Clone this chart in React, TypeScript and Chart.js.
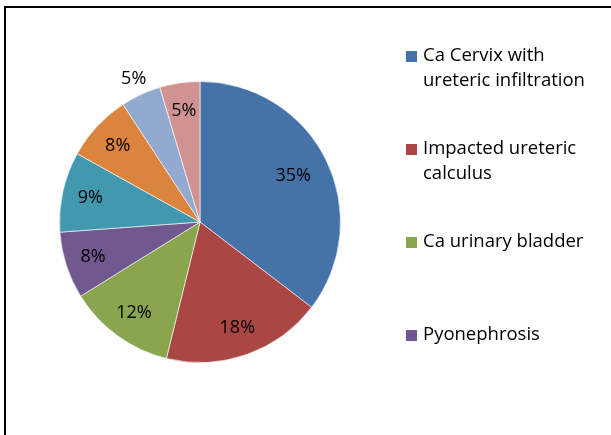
import React, { useEffect, useRef } from "react";
import { Chart, registerables } from "chart.js";

Chart.register(...registerables);

const categories = [
  "Ca Cervix with ureteric infiltration",
  "Impacted ureteric calculus",
  "Ca urinary bladder",
  "Pyonephrosis",
  "",
  "",
  "",
  "",
];
const legendLines = [
  ["Ca Cervix with", "ureteric infiltration"],
  ["Impacted ureteric", "calculus"],
  ["Ca urinary bladder"],
  ["Pyonephrosis"],
];
// patient counts (n = 65)
const values = [23, 12, 8, 5, 6, 5, 3, 3];
const colors = [
  "#4572A7",
  "#AA4643",
  "#89A54E",
  "#71588F",
  "#4198AF",
  "#DB843D",
  "#93A9CF",
  "#D19392",
];

const FONT = "'Open Sans', sans-serif";

export default function App() {
  const ref = useRef<HTMLCanvasElement>(null);
  useEffect(() => {
    document.body.style.margin = "0";
    const total = values.reduce((a, b) => a + b, 0);
    const labelPlugin = {
      id: "pieLabels",
      afterDatasetsDraw(chart: any) {
        const ctx = chart.ctx;
        const meta = chart.getDatasetMeta(0);
        ctx.save();
        ctx.font = `18px ${FONT}`;
        ctx.fillStyle = "#000";
        ctx.textAlign = "center";
        ctx.textBaseline = "middle";
        meta.data.forEach((arc: any, i: number) => {
          const p = arc.getProps(["x", "y", "startAngle", "endAngle", "outerRadius"], true);
          const mid = (p.startAngle + p.endAngle) / 2;
          const f = i === 6 ? 1.12 : i === 0 ? 0.74 : 0.8;
          const r = p.outerRadius * f;
          const txt = Math.round((values[i] / total) * 100) + "%";
          ctx.fillText(txt, p.x + Math.cos(mid) * r, p.y + Math.sin(mid) * r);
        });
        // legend
        ctx.font = `18.5px ${FONT}`;
        const lx = 406;
        const tops = [56, 149, 242, 335];
        legendLines.forEach((lines, i) => {
          const cy = tops[i];
          ctx.fillStyle = colors[i];
          ctx.fillRect(lx, cy - 5, 11, 11);
          ctx.fillStyle = "#000";
          ctx.textAlign = "left";
          lines.forEach((t, j) => {
            ctx.fillText(t, lx + 17, cy + j * 25);
          });
        });
        ctx.restore();
      },
    };
    const chart = new Chart(ref.current!, {
      type: "pie",
      data: {
        labels: categories,
        datasets: [
          {
            data: values,
            backgroundColor: colors,
            borderColor: "rgba(255,255,255,0.6)",
            borderWidth: 1,
          },
        ],
      },
      options: {
        animation: false,
        responsive: false,
        maintainAspectRatio: false,
        layout: { padding: { left: 59, right: 270, top: 81, bottom: 72 } },
        plugins: {
          legend: { display: false },
          tooltip: { enabled: false },
        },
      },
      plugins: [labelPlugin],
    });
    return () => chart.destroy();
  }, []);
  return (
    <div style={{ position: "fixed", left: 0, top: 0, width: 611, height: 435, background: "#fff" }}>
      <canvas ref={ref} width={611} height={435} style={{ position: "absolute", left: 0, top: 0 }} />
      <div
        style={{
          position: "absolute",
          left: 4,
          top: 6,
          width: 700,
          height: 500,
          borderLeft: "2px solid #000",
          borderTop: "2px solid #000",
          boxSizing: "border-box",
          pointerEvents: "none",
        }}
      />
    </div>
  );
}
